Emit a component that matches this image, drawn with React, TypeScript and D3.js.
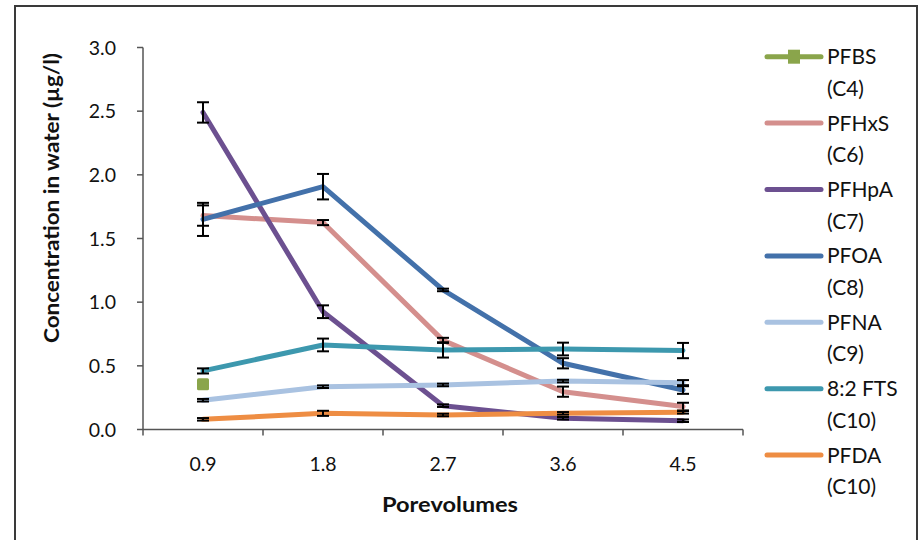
import React from "react";
import * as d3 from "d3";

const porevolumes = ["0.9", "1.8", "2.7", "3.6", "4.5"];
const yTicks = [0, 0.5, 1.0, 1.5, 2.0, 2.5, 3.0];

const pfbs = [0.355, null, null, null, null];
const pfhxs = [1.68, 1.625, 0.7, 0.297, 0.18];
const pfhpa = [2.49, 0.925, 0.187, 0.088, 0.069];
const pfoa = [1.65, 1.907, 1.096, 0.52, 0.31];
const pfna = [0.23, 0.336, 0.35, 0.38, 0.368];
const fts = [0.46, 0.664, 0.625, 0.632, 0.62];
const pfda = [0.08, 0.127, 0.114, 0.127, 0.135];

const pfbsErr = [0, 0, 0, 0, 0];
const pfhxsErr = [0.08, 0.02, 0.02, 0.04, 0.03];
const pfhpaErr = [0.08, 0.05, 0.01, 0.01, 0.01];
const pfoaErr = [0.13, 0.1, 0.01, 0.04, 0.03];
const pfnaErr = [0.01, 0.01, 0.01, 0.01, 0.02];
const ftsErr = [0.02, 0.05, 0.06, 0.05, 0.06];
const pfdaErr = [0.01, 0.02, 0.01, 0.01, 0.01];

const seriesNames = ["PFBS", "PFHxS", "PFHpA", "PFOA", "PFNA", "8:2 FTS", "PFDA"];
const seriesChains = ["(C4)", "(C6)", "(C7)", "(C8)", "(C9)", "(C10)", "(C10)"];
const seriesValues = [pfbs, pfhxs, pfhpa, pfoa, pfna, fts, pfda];
const seriesErrors = [pfbsErr, pfhxsErr, pfhpaErr, pfoaErr, pfnaErr, ftsErr, pfdaErr];
const seriesColors = ["#8aa54b", "#d48f8d", "#6c5090", "#4371aa", "#a9c2e1", "#3d98ae", "#ee8d43"];

const FONT = "Lato, 'Open Sans', sans-serif";

export default function App() {
  const width = 921;
  const height = 540;
  const plot = { left: 143, right: 743, top: 47.5, bottom: 429.5 };

  const xBand = d3.scaleBand<string>().domain(porevolumes).range([plot.left, plot.right]).padding(0);
  const xc = (c: string) => (xBand(c) as number) + xBand.bandwidth() / 2;
  const y = d3.scaleLinear().domain([0, 3]).range([plot.bottom, plot.top]);

  const line = d3
    .line<number | null>()
    .defined((d) => d !== null)
    .x((_, i) => xc(porevolumes[i]))
    .y((d) => y(d as number));

  const capHalf = 6;
  const legendX = 767;
  const legendTop = 56.7;
  const legendStep = 66.4;

  return (
    <svg width={width} height={height} style={{ position: "absolute", left: 0, top: 0 }}>
      <rect x={0} y={0} width={width} height={height} fill="#ffffff" />
      {/* outer frame */}
      <rect x={15} y={6} width={902} height={560} fill="none" stroke="#3a3a3a" strokeWidth={2} />

      {/* y axis */}
      <line x1={plot.left} x2={plot.left} y1={plot.top} y2={plot.bottom} stroke="#555" strokeWidth={1.5} />
      {yTicks.map((t) => (
        <g key={t}>
          <line x1={plot.left - 6} x2={plot.left} y1={y(t)} y2={y(t)} stroke="#555" strokeWidth={1.5} />
          <text x={116} y={y(t)} dy="0.36em" textAnchor="end" fontFamily={FONT} fontSize={19.5} fill="#111">
            {d3.format(".1f")(t)}
          </text>
        </g>
      ))}

      {/* x axis */}
      <line x1={plot.left} x2={plot.right} y1={plot.bottom} y2={plot.bottom} stroke="#555" strokeWidth={1.5} />
      {[...porevolumes.map((c) => xBand(c) as number), plot.right].map((xv, i) => (
        <line key={i} x1={xv} x2={xv} y1={plot.bottom} y2={plot.bottom + 6} stroke="#555" strokeWidth={1.5} />
      ))}
      {porevolumes.map((c) => (
        <text key={c} x={xc(c)} y={464} dy="0.36em" textAnchor="middle" fontFamily={FONT} fontSize={19.5} fill="#111">
          {c}
        </text>
      ))}

      {/* axis titles */}
      <text
        x={450}
        y={505}
        dy="0.36em"
        textAnchor="middle"
        fontFamily={FONT}
        fontWeight="bold"
        fontSize={20}
        fill="#111"
        textLength={136}
        lengthAdjust="spacingAndGlyphs"
      >
        Porevolumes
      </text>
      <text
        transform={`translate(52, 198) rotate(-90)`}
        dy="0.36em"
        textAnchor="middle"
        fontFamily={FONT}
        fontWeight="bold"
        fontSize={20}
        fill="#111"
        textLength={290}
        lengthAdjust="spacingAndGlyphs"
      >
        Concentration in water (µg/l)
      </text>

      {/* series lines with their error bars */}
      {seriesValues.map((vals, si) => (
        <g key={si}>
          <path
            d={line(vals) || ""}
            fill="none"
            stroke={seriesColors[si]}
            strokeWidth={5}
            strokeLinejoin="round"
            strokeLinecap="round"
          />
          {vals.map((v, i) => {
            if (v === null) return null;
            const e = seriesErrors[si][i];
            if (!e) return null;
            const cx = xc(porevolumes[i]);
            const y1 = y(v + e);
            const y2 = y(v - e);
            return (
              <g key={i} stroke="#000" strokeWidth={2}>
                <line x1={cx} x2={cx} y1={y1} y2={y2} />
                <line x1={cx - capHalf} x2={cx + capHalf} y1={y1} y2={y1} />
                <line x1={cx - capHalf} x2={cx + capHalf} y1={y2} y2={y2} />
              </g>
            );
          })}
        </g>
      ))}

      {/* PFBS marker */}
      {pfbs.map((v, i) =>
        v === null ? null : (
          <rect
            key={i}
            x={xc(porevolumes[i]) - 6}
            y={y(v) - 6}
            width={12}
            height={12}
            rx={1.5}
            fill={seriesColors[0]}
          />
        )
      )}

      {/* legend */}
      {seriesNames.map((name, i) => {
        const ly = legendTop + i * legendStep;
        return (
          <g key={name}>
            <line
              x1={legendX}
              x2={legendX + 54}
              y1={ly}
              y2={ly}
              stroke={seriesColors[i]}
              strokeWidth={5}
              strokeLinecap="round"
            />
            {i === 0 && <rect x={legendX + 27 - 6} y={ly - 7} width={12} height={14} fill={seriesColors[0]} />}
            <text x={827} y={ly} dy="0.36em" fontFamily={FONT} fontSize={21} fill="#111">
              {name}
            </text>
            <text x={827} y={ly + 31.5} dy="0.36em" fontFamily={FONT} fontSize={21} fill="#111">
              {seriesChains[i]}
            </text>
          </g>
        );
      })}
    </svg>
  );
}
